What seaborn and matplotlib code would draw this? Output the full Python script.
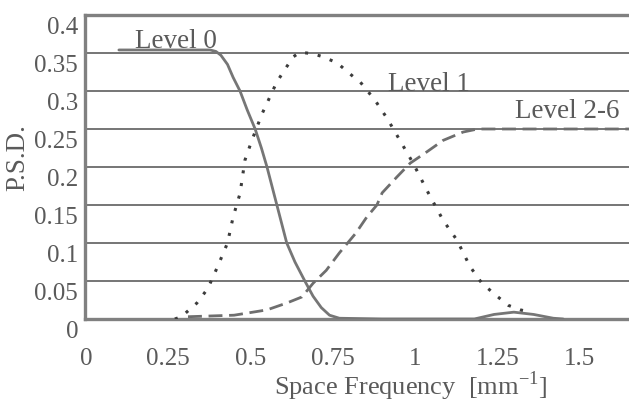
import matplotlib
matplotlib.use("Agg")
import matplotlib.pyplot as plt
import matplotlib.transforms as mtransforms
import numpy as np
import pandas as pd
import seaborn as sns

# --- data -------------------------------------------------------------
level0_x = [0.10, 0.20, 0.30, 0.377, 0.395, 0.41, 0.43, 0.447, 0.468, 0.49,
            0.514, 0.533, 0.55, 0.565, 0.58, 0.595, 0.61, 0.635, 0.665, 0.69,
            0.715, 0.74, 0.77, 0.90, 1.05, 1.18, 1.24, 1.30, 1.36, 1.42, 1.45]
level0_y = [0.354, 0.354, 0.354, 0.354, 0.352, 0.347, 0.335, 0.318, 0.300, 0.275,
            0.250, 0.225, 0.200, 0.175, 0.150, 0.125, 0.100, 0.075, 0.050, 0.030,
            0.015, 0.005, 0.001, 0.0, 0.0, 0.0, 0.006, 0.009, 0.006, 0.001, 0.0]

level1_x = [0.27, 0.29, 0.337, 0.37, 0.40, 0.43, 0.447, 0.459, 0.468, 0.483,
            0.504, 0.535, 0.55, 0.58, 0.61, 0.63, 0.65, 0.69, 0.72, 0.763,
            0.82, 0.833, 0.878, 0.915, 0.954, 0.994, 1.04, 1.085, 1.127, 1.167,
            1.203, 1.249, 1.283, 1.32, 1.34]
level1_y = [0.0, 0.003, 0.021, 0.04, 0.069, 0.10, 0.134, 0.152, 0.165, 0.209,
            0.235, 0.27, 0.284, 0.312, 0.332, 0.345, 0.351, 0.349, 0.345, 0.337,
            0.316, 0.312, 0.288, 0.264, 0.235, 0.205, 0.166, 0.13, 0.104, 0.069,
            0.047, 0.03, 0.018, 0.012, 0.01]

level26_x = [0.31, 0.45, 0.55, 0.61, 0.656, 0.69, 0.73, 0.77, 0.82, 0.853,
             0.884, 0.90, 0.945, 0.985, 1.036, 1.085, 1.146, 1.19, 1.30, 1.45,
             1.65]
level26_y = [0.003, 0.005, 0.012, 0.021, 0.029, 0.047, 0.064, 0.087, 0.113, 0.134,
             0.15, 0.166, 0.187, 0.205, 0.22, 0.235, 0.246, 0.25, 0.25, 0.25,
             0.25]

series_names = ["Level 0", "Level 1", "Level 2-6"]
x_ticks = [0, 0.25, 0.5, 0.75, 1, 1.25, 1.5]
x_tick_labels = ["0", "0.25", "0.5", "0.75", "1", "1.25", "1.5"]
y_ticks = [0, 0.05, 0.1, 0.15, 0.2, 0.25, 0.3, 0.35, 0.4]
y_tick_labels = ["0", "0.05", "0.1", "0.15", "0.2", "0.25", "0.3", "0.35", "0.4"]

df = pd.concat([
    pd.DataFrame({"freq": level0_x, "psd": level0_y, "level": series_names[0]}),
    pd.DataFrame({"freq": level1_x, "psd": level1_y, "level": series_names[1]}),
    pd.DataFrame({"freq": level26_x, "psd": level26_y, "level": series_names[2]}),
], ignore_index=True)

# --- style ------------------------------------------------------------
sns.set_theme(style="white")
plt.rcParams["font.family"] = ["Liberation Serif", "DejaVu Serif"]
plt.rcParams["mathtext.fontset"] = "custom"
plt.rcParams["mathtext.rm"] = "Liberation Serif"

text_col = "#5a5a5a"
line_styles = {
    "Level 0": dict(color="#767676", linestyle="-", linewidth=2.0),
    "Level 1": dict(color="#3c3c3c", linestyle=(0, (1.0, 3.2)), linewidth=2.2),
    "Level 2-6": dict(color="#6e6e6e", linestyle=(0, (5.0, 2.4)), linewidth=2.0),
}

fig = plt.figure(figsize=(6.29, 4.03), dpi=100)
ax = fig.add_axes([85 / 629, 84 / 403, 544 / 629, 304 / 403])

# horizontal rules
for yv in y_ticks[1:-1]:
    ax.axhline(yv, color="#6a6a6a", linewidth=1.3, zorder=1)

for name in series_names:
    sub = df[df["level"] == name]
    sns.lineplot(data=sub, x="freq", y="psd", ax=ax, sort=False,
                 estimator=None, legend=False, zorder=3,
                 solid_joinstyle="round", **line_styles[name])

ax.set_xlim(-0.003, 1.65)
ax.set_ylim(0, 0.4)
ax.set_xticks(x_ticks)
ax.set_xticklabels(x_tick_labels)
ax.set_yticks(y_ticks)
ax.set_yticklabels(y_tick_labels)
ax.tick_params(axis="both", length=0, labelsize=18, colors=text_col)
ax.tick_params(axis="y", pad=5)
ax.tick_params(axis="x", pad=21)

# y labels sit a little below their rules
offset = mtransforms.ScaledTranslation(0, -10 / 100, fig.dpi_scale_trans)
for lab in ax.get_yticklabels():
    lab.set_transform(lab.get_transform() + offset)

for side in ["left", "top", "bottom"]:
    ax.spines[side].set_visible(True)
    ax.spines[side].set_color("#808080")
    ax.spines[side].set_linewidth(2.4)
ax.spines["right"].set_visible(False)

ax.set_xlabel("Space Frequency  [mm$^{\\mathregular{-1}}$]", fontsize=19,
              color=text_col)
ax.xaxis.set_label_coords(0.599, -0.222)
ax.xaxis.label.set_va("center")
ax.set_ylabel("P.S.D.", fontsize=19.5, color=text_col)
ax.yaxis.set_label_coords(-0.123, 0.53)
ax.yaxis.label.set_va("center")

ax.text(0.149, 0.357, "Level 0", fontsize=19.5, color=text_col,
        ha="left", va="baseline", zorder=4)
ax.text(0.918, 0.300, "Level 1", fontsize=19.5, color=text_col,
        ha="left", va="baseline", zorder=4)
ax.text(1.304, 0.264, "Level 2-6", fontsize=19.5, color=text_col,
        ha="left", va="baseline", zorder=4)

fig.savefig("out.png", dpi=100)
